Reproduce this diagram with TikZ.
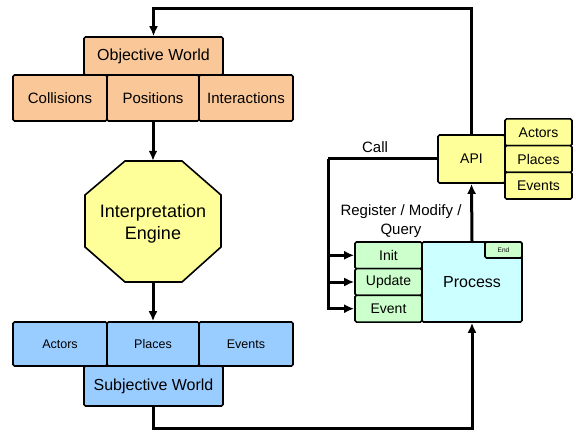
\documentclass[tikz,border=0pt]{standalone}
\usepackage{fontspec}
\setmainfont{Liberation Sans}
\usetikzlibrary{arrows.meta}
\definecolor{objorange}{HTML}{FAC898}
\definecolor{engyellow}{HTML}{FFFF99}
\definecolor{subjblue}{HTML}{99CCFF}
\definecolor{hookgreen}{HTML}{CCFFCC}
\definecolor{proccyan}{HTML}{CCFFFF}
\tikzset{
  box/.style={draw, line width=1.6pt, rounded corners=1.5pt, inner sep=0pt, font=\fontsize{15}{18}\selectfont},
  obj/.style={box, fill=objorange},
  subj/.style={box, fill=subjblue},
  api/.style={box, fill=engyellow, font=\fontsize{14}{17}\selectfont},
  hook/.style={box, fill=hookgreen, minimum width=67pt, minimum height=26.7pt, font=\fontsize{14}{17}\selectfont},
  wire/.style={line width=3pt},
  arr/.style={wire, -{Latex[length=10pt,width=9pt]}},
  lbl/.style={font=\fontsize{15}{19}\selectfont, align=center}
}
\begin{document}
\begin{tikzpicture}[x=1pt,y=-1pt]
    \useasboundingbox (0,0) rectangle (576,433);
    \node[obj, minimum width=139pt, minimum height=38pt, font=\fontsize{16}{19}\selectfont] (objworld) at (153.5,56) {Objective World};
    \node[obj, minimum width=94pt, minimum height=46pt] (collisions) at (60,98) {Collisions};
    \node[obj, minimum width=92pt, minimum height=46pt] (positions) at (153,98) {Positions};
    \node[obj, minimum width=94pt, minimum height=46pt] (interactions) at (246,98) {Interactions};

    \draw[line width=1.6pt, fill=engyellow] (125,161) -- (182,161) -- (221,195) -- (221,247) -- (182,282) -- (125,282) -- (85,247) -- (85,195) -- cycle;
    \node[minimum width=136pt, minimum height=121pt, font=\fontsize{18}{22}\selectfont] (engine) at (153,221.5) {};
    \node[align=center, font=\fontsize{18}{22}\selectfont] (enginetext) at (153,224) {Interpretation\\Engine};

    \node[subj, minimum width=94pt, minimum height=44pt, font=\fontsize{12.5}{15}\selectfont] (sactors) at (60,344) {Actors};
    \node[subj, minimum width=92pt, minimum height=44pt, font=\fontsize{12.5}{15}\selectfont] (splaces) at (153,344) {Places};
    \node[subj, minimum width=94pt, minimum height=44pt, font=\fontsize{12.5}{15}\selectfont] (sevents) at (246,344) {Events};
    \node[subj, minimum width=139pt, minimum height=40pt, font=\fontsize{16}{19}\selectfont] (subjworld) at (153.5,386) {Subjective World};

    \node[api, minimum width=67pt, minimum height=48pt] (api) at (471.5,159) {API};
    \node[api, minimum width=67pt, minimum height=26.7pt] (aactors) at (538.5,132.3) {Actors};
    \node[api, minimum width=67pt, minimum height=26.7pt] (aplaces) at (538.5,159) {Places};
    \node[api, minimum width=67pt, minimum height=26.7pt] (aevents) at (538.5,185.7) {Events};

    \node[box, fill=proccyan, minimum width=100pt, minimum height=80pt, font=\fontsize{16}{19}\selectfont] (process) at (472,282) {Process};
    \node[box, fill=hookgreen, minimum width=37pt, minimum height=16pt, font=\fontsize{6.5}{8}\selectfont] (end) at (503.5,250) {End};
    \node[hook] (init) at (388.5,255.3) {Init};
    \node[hook] (update) at (388.5,282) {Update};
    \node[hook] (event) at (388.5,308.7) {Event};

    \draw[arr] (api.north) -- ++(0,-126) -| (objworld.north);
    \draw[arr] (positions.south) -- (engine.north);
    \draw[arr] (engine.south) -- (splaces.north);
    \draw[arr] (subjworld.south) -- ++(0,22) -| (process.south);
    \draw[arr] (process.north) -- (api.south);

    \coordinate (callbend) at (328,159);
    \draw[wire] (api.west) -- (callbend);
    \draw[arr] (callbend) |- (init.west);
    \draw[arr] (callbend) |- (update.west);
    \draw[arr] (callbend) |- (event.west);
    \node[lbl] (call) at (375,147) {Call};
    \node[lbl] (register) at (401,221) {Register / Modify /\\Query};
\end{tikzpicture}
\end{document}
